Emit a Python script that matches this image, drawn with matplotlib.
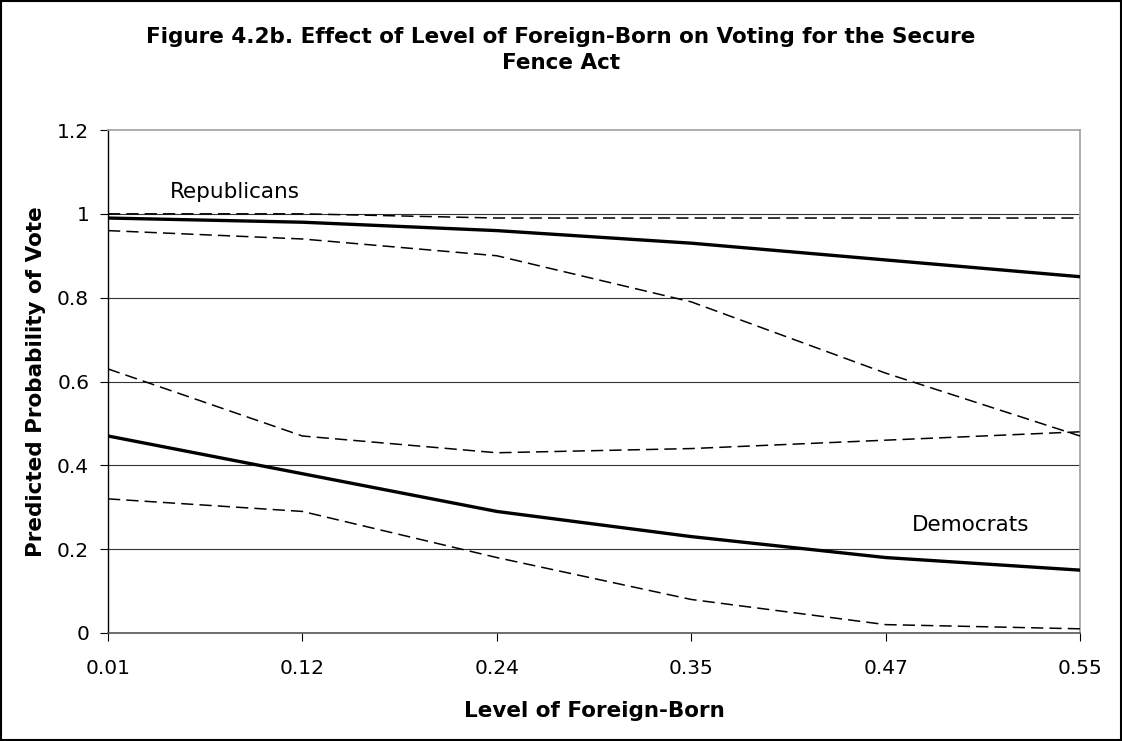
import matplotlib
matplotlib.use("Agg")
import matplotlib.pyplot as plt
from matplotlib.patches import Rectangle

categories = ["0.01", "0.12", "0.24", "0.35", "0.47", "0.55"]
rep_mean = [0.99, 0.98, 0.96, 0.93, 0.89, 0.85]
rep_upper = [1.00, 1.00, 0.99, 0.99, 0.99, 0.99]
rep_lower = [0.96, 0.94, 0.90, 0.79, 0.62, 0.47]
dem_mean = [0.47, 0.38, 0.29, 0.23, 0.18, 0.15]
dem_upper = [0.63, 0.47, 0.43, 0.44, 0.46, 0.48]
dem_lower = [0.32, 0.29, 0.18, 0.08, 0.02, 0.01]
yticks = [0, 0.2, 0.4, 0.6, 0.8, 1.0, 1.2]
ytick_labels = ["0", "0.2", "0.4", "0.6", "0.8", "1", "1.2"]

plt.rcParams['font.family'] = ['DejaVu Sans']

fig = plt.figure(figsize=(11.22, 7.41), dpi=100)
ax = fig.add_axes([108/1122, 1 - 633/741, (1080-108)/1122, (633-130)/741])

x = list(range(len(categories)))
solid_kw = dict(color='black', lw=2.4, solid_joinstyle='miter', zorder=3)
dash_kw = dict(color='black', lw=1.1, dashes=(8, 4), zorder=3)

ax.plot(x, rep_upper, **dash_kw)
ax.plot(x, rep_lower, **dash_kw)
ax.plot(x, rep_mean, **solid_kw)
ax.plot(x, dem_upper, **dash_kw)
ax.plot(x, dem_lower, **dash_kw)
ax.plot(x, dem_mean, **solid_kw)

ax.set_xlim(0, len(categories) - 1)
ax.set_ylim(0, 1.2)
ax.set_xticks(x)
ax.set_xticklabels(categories, fontsize=14.5)
ax.set_yticks(yticks)
ax.set_yticklabels(ytick_labels, fontsize=14.5)
for yv in yticks[1:-1]:
    ax.axhline(yv, color='#333333', lw=0.8, zorder=1)

ax.tick_params(axis='both', direction='out', length=5.5, width=0.8, color='black')
ax.tick_params(axis='x', pad=13)
ax.tick_params(axis='y', pad=8)
for side in ['top', 'right']:
    ax.spines[side].set_color('#a0a0a0')
    ax.spines[side].set_linewidth(1.2)
ax.spines['left'].set_color('black')
ax.spines['left'].set_linewidth(1.0)
ax.spines['bottom'].set_color('#555555')
ax.spines['bottom'].set_linewidth(1.2)

ax.set_xlabel("Level of Foreign-Born", fontsize=15.5, fontweight='bold', labelpad=17)
ax.set_ylabel("Predicted Probability of Vote", fontsize=15.5, fontweight='bold', labelpad=8)

ax.text(0.319, 1.038, "Republicans", fontsize=15.5, ha='left', va='baseline')
ax.text(4.136, 0.2436, "Democrats", fontsize=15.5, ha='left', va='baseline')

fig.text(0.5, 1 - 50/741, "Figure 4.2b. Effect of Level of Foreign-Born on Voting for the Secure\nFence Act",
         ha='center', va='center', fontsize=15.5, fontweight='bold', linespacing=1.32)

fig.patches.append(Rectangle((0.001, 0.001), 0.998, 0.998, transform=fig.transFigure,
                             fill=False, edgecolor='black', lw=1.5))

fig.savefig("out.png", dpi=100)
